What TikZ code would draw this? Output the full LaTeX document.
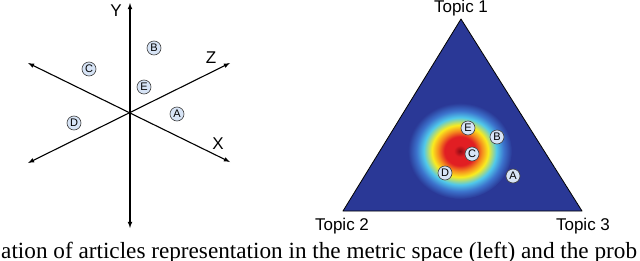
\documentclass[tikz,border=0pt]{standalone}
\usepackage{fontspec}
\setmainfont{Liberation Serif}
\setsansfont{Liberation Sans}
\definecolor{triblue}{RGB}{42,56,150}
\definecolor{haloblue}{RGB}{60,115,205}
\definecolor{heatcyan}{RGB}{80,200,235}
\definecolor{heatyellow}{RGB}{250,235,30}
\definecolor{heatorange}{RGB}{245,140,30}
\definecolor{heatred}{RGB}{225,30,35}
\definecolor{heatdark}{RGB}{140,10,20}
\definecolor{circblue}{RGB}{215,228,246}
\pgfdeclareradialshading{heatblob}{\pgfpoint{0bp}{0bp}}{%
  color(0bp)=(heatdark); color(3bp)=(heatred); color(7.5bp)=(heatred);
  color(10.5bp)=(heatorange); color(13.5bp)=(heatyellow); color(17.5bp)=(heatcyan);
  color(21bp)=(haloblue); color(25bp)=(triblue); color(50bp)=(triblue)}
\begin{document}
\begin{tikzpicture}[x=1pt, y=-1pt, >=latex]
\tikzset{
    every node/.style={font=\sffamily},
    axis/.style={<->, line width=1.1pt},
    axislabel/.style={font=\sffamily\fontsize{17}{17}\selectfont, inner sep=0pt},
    topic/.style={font=\sffamily\fontsize{17}{17}\selectfont, inner sep=0pt},
    article/.style={circle, draw=black!75, fill=circblue, line width=0.6pt,
        minimum size=14pt, inner sep=0pt, font=\sffamily\fontsize{11}{11}\selectfont}
}
\useasboundingbox (0,0) rectangle (640,260);

\coordinate (o) at (130,113);
\coordinate (ytop) at (130,3);
\coordinate (ybot) at (130,228);
\coordinate (ztip) at (230,63);
\coordinate (zend) at (28,163);
\coordinate (xtip) at (230,162);
\coordinate (xend) at (28,63);
\draw[axis] (ybot) -- (ytop);
\draw[axis] (zend) -- (ztip);
\draw[axis] (xend) -- (xtip);
\node[axislabel] (ylab) at (116,11) {Y};
\node[axislabel] (zlab) at (211,58) {Z};
\node[axislabel] (xlab) at (218,144) {X};

\node[article] (a1) at (177,114) {A};
\node[article] (b1) at (154,48) {B};
\node[article] (c1) at (89,69) {C};
\node[article] (d1) at (74,123) {D};
\node[article] (e1) at (144,87) {E};

\coordinate (t1) at (461,19);
\coordinate (t2) at (343,211);
\coordinate (t3) at (582,211);
\begin{scope}
    \clip (t1) -- (t2) -- (t3) -- cycle;
    \fill[triblue] (t1) -- (t2) -- (t3) -- cycle;
    \shade[shading=heatblob] (460,151) ellipse (52 and 48);
\end{scope}
\draw[line width=0.8pt, line join=round] (t1) -- (t2) -- (t3) -- cycle;
\node[topic, anchor=south] (top1) at (461,16) {Topic 1};
\node[topic] (top2) at (342,226) {Topic 2};
\node[topic] (top3) at (583,226) {Topic 3};

\node[article] (a2) at (513,176) {A};
\node[article] (b2) at (497,137) {B};
\node[article] (c2) at (472,154) {C};
\node[article] (d2) at (445,173) {D};
\node[article] (e2) at (468,128) {E};

\node[font=\rmfamily\fontsize{23.2}{24}\selectfont, anchor=base west, inner sep=0pt]
    (caption) at (1,258) {ation of articles representation in the metric space (left) and the prob};
\end{tikzpicture}
\end{document}
